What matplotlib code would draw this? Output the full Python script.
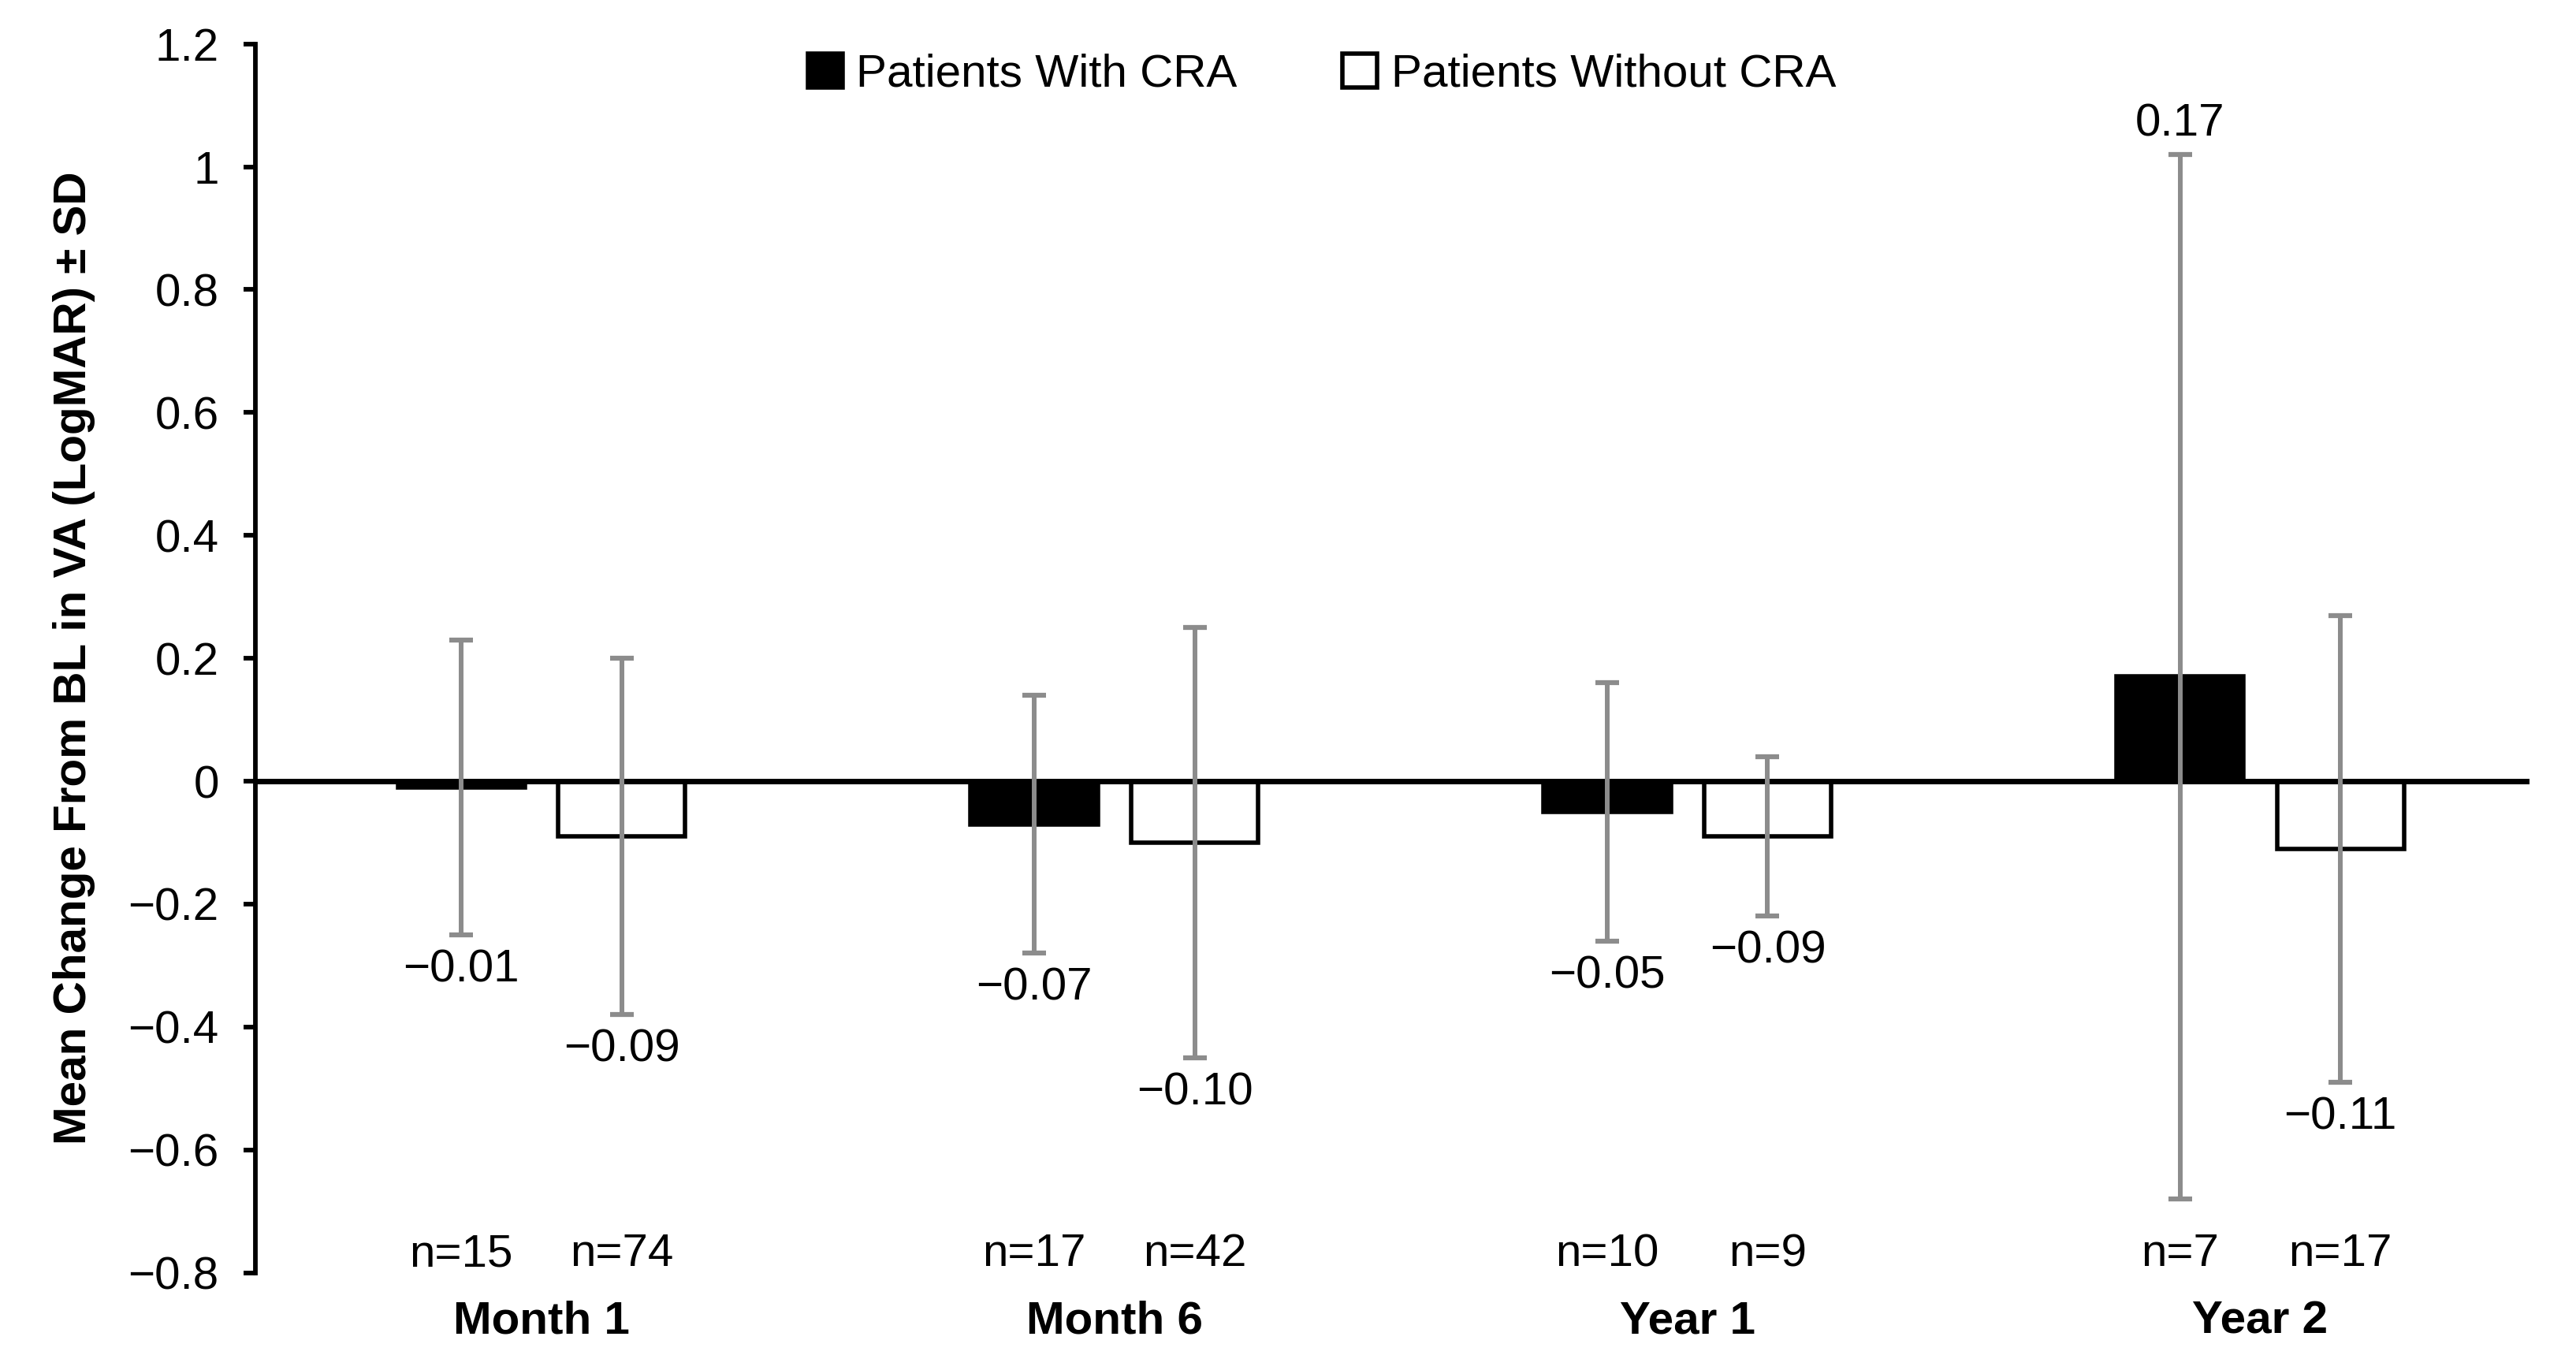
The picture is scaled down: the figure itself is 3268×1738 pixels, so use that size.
import numpy as np
import matplotlib
matplotlib.use("Agg")
import matplotlib.pyplot as plt
from matplotlib.ticker import FuncFormatter

plt.rcParams['font.family'] = ['Liberation Sans', 'DejaVu Sans']

categories = ['Month 1', 'Month 6', 'Year 1', 'Year 2']
with_cra = [-0.01, -0.07, -0.05, 0.17]
with_cra_sd = [0.24, 0.21, 0.21, 0.85]
without_cra = [-0.09, -0.10, -0.09, -0.11]
without_cra_sd = [0.29, 0.35, 0.13, 0.38]
n_with = [15, 17, 10, 7]
n_without = [74, 42, 9, 17]
yticks = [1.2, 1.0, 0.8, 0.6, 0.4, 0.2, 0.0, -0.2, -0.4, -0.6, -0.8]

fig = plt.figure(figsize=(32.68, 17.38), dpi=100)
ax = fig.add_axes([0.099, 0.071, 0.883, 0.897])

x = np.arange(len(categories))
w = 0.222
off = 0.14
fs = 42

b1 = ax.bar(x - off, with_cra, w, color='black', edgecolor='black', lw=4,
            label='Patients With CRA', zorder=2)
b2 = ax.bar(x + off, without_cra, w, color='white', edgecolor='black', lw=4,
            label='Patients Without CRA', zorder=2)

ax.axhline(0, color='black', lw=5, zorder=3)

for xs, vals, sds in [(x - off, with_cra, with_cra_sd), (x + off, without_cra, without_cra_sd)]:
    ax.errorbar(xs, vals, yerr=sds, fmt='none', ecolor='#8c8c8c', elinewidth=4.3,
                capsize=11, capthick=4.5, zorder=4)
    for xi, v, s in zip(xs, vals, sds):
        if v >= 0:
            ax.annotate(f'{v:.2f}', (xi, v + s), xytext=(0, 28), textcoords='offset points',
                        ha='center', va='center', fontsize=fs)
        else:
            ax.annotate(f'\u2212{abs(v):.2f}', (xi, v - s), xytext=(0, -32),
                        textcoords='offset points', ha='center', va='center', fontsize=fs)

for xi, n in zip(x - off, n_with):
    ax.text(xi, -0.77, f'n={n}', ha='center', va='center', fontsize=fs)
for xi, n in zip(x + off, n_without):
    ax.text(xi, -0.77, f'n={n}', ha='center', va='center', fontsize=fs)

ax.set_ylim(-0.8, 1.2)
ax.set_xlim(-0.5, 3.47)
ax.set_yticks(yticks)


def fmt(v, pos):
    s = f'{v:.1f}'
    if s.endswith('.0'):
        s = s[:-2]
    if s == '-0':
        s = '0'
    return s.replace('-', '\u2212')


ax.yaxis.set_major_formatter(FuncFormatter(fmt))
ax.tick_params(axis='y', direction='out', length=11, width=4.2, labelsize=fs, pad=22)
ax.set_xticks(x)
ax.set_xticklabels(categories, fontsize=fs, fontweight='bold')
ax.tick_params(axis='x', length=0, pad=25)

for s in ['top', 'right', 'bottom']:
    ax.spines[s].set_visible(False)
ax.spines['left'].set_linewidth(4.2)

ax.set_ylabel('Mean Change From BL in VA (LogMAR) \u00b1 SD', fontsize=fs, fontweight='bold',
              labelpad=30)

ax.legend(loc='center', bbox_to_anchor=(0.469, 0.975), ncol=2, frameon=False,
          fontsize=fs, handlelength=0.75, handleheight=0.75, handletextpad=0.3,
          columnspacing=2.3)

fig.savefig('out.png', dpi=100)
